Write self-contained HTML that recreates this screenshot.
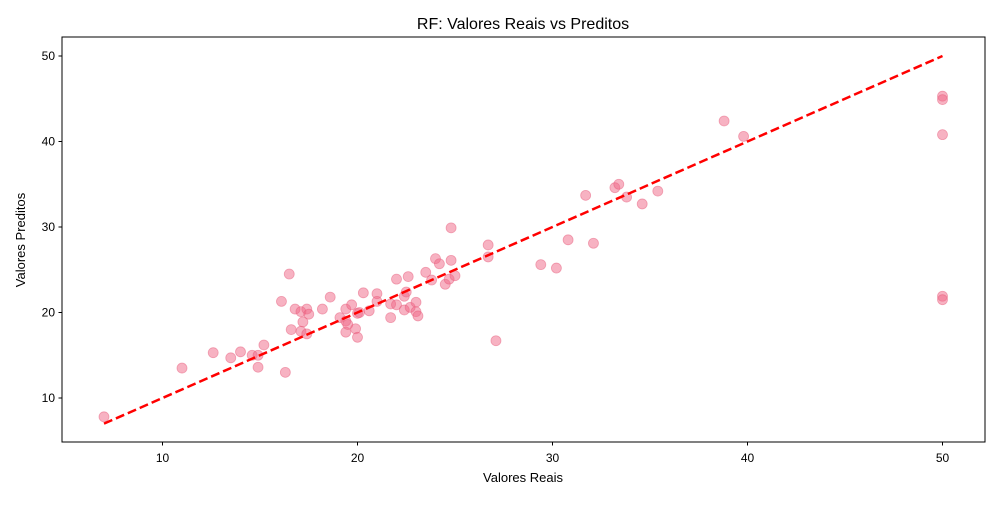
<!DOCTYPE html>
<html><head><meta charset="utf-8"><style>
body{margin:0;background:#fff;}
svg text{font-family:"Liberation Sans","DejaVu Sans",sans-serif;fill:#000;}
</style></head><body>
<svg id="chart" width="1000" height="500" xmlns="http://www.w3.org/2000/svg">
<text x="523" y="29" font-size="16" text-anchor="middle">RF: Valores Reais vs Preditos</text>
<g id="plot"></g>
<rect x="62" y="37" width="923" height="405" fill="none" stroke="#000" stroke-width="1"/>
<text x="523" y="482" font-size="13" text-anchor="middle">Valores Reais</text>
<text transform="translate(25,240) rotate(-90)" font-size="13" text-anchor="middle">Valores Preditos</text>
</svg>
<script>
const realValues=[7.0,11.0,12.6,13.5,14.0,14.6,14.9,14.9,15.2,16.3,16.1,16.5,16.6,16.8,17.1,17.1,17.2,17.4,17.4,17.5,18.2,18.6,19.1,19.4,19.4,19.4,19.5,19.7,19.9,20.0,20.0,20.1,20.3,20.6,21.0,21.0,21.7,21.7,22.0,22.0,22.4,22.4,22.6,22.5,22.7,23.0,23.0,23.1,23.5,23.8,24.0,24.2,24.5,24.7,24.8,24.8,25.0,26.7,26.7,27.1,29.4,30.2,30.8,32.1,31.7,33.2,33.4,33.8,34.6,35.4,38.8,39.8,50,50,50,50,50];
const predValues=[7.8,13.5,15.3,14.7,15.4,15.0,15.0,13.6,16.2,13.0,21.3,24.5,18.0,20.4,20.1,17.8,18.9,20.4,17.5,19.8,20.4,21.8,19.4,19.0,20.4,17.7,18.6,20.9,18.1,19.9,17.1,20.0,22.3,20.2,22.2,21.3,21.0,19.4,23.9,20.9,20.3,21.9,24.2,22.4,20.6,21.2,20.1,19.6,24.7,23.8,26.3,25.7,23.3,23.9,29.9,26.1,24.3,27.9,26.5,16.7,25.6,25.2,28.5,28.1,33.7,34.6,35.0,33.5,32.7,34.2,42.4,40.6,45.3,44.9,40.8,21.9,21.5];
const xTicks=[10,20,30,40,50];
const yTicks=[10,20,30,40,50];
const identityLine=[7,50];
const NS="http://www.w3.org/2000/svg";
const X=v=>162.5+(v-10)*19.5;
const Y=v=>398-(v-10)*8.55;
const g=document.getElementById('plot');
function mk(t,a){const e=document.createElementNS(NS,t);for(const k in a)e.setAttribute(k,a[k]);g.appendChild(e);return e;}
xTicks.forEach(t=>{
  const l=mk('line',{x1:X(t),x2:X(t),y1:442,y2:445.5,stroke:'#000'});
  
  
  const tx=mk('text',{x:X(t),y:462,'font-size':12,'text-anchor':'middle'});tx.textContent=t;
  
  
});
yTicks.forEach(t=>{
  const l=mk('line',{x1:58.5,x2:62,y1:Y(t),y2:Y(t),stroke:'#000'});
  
  
  const tx=mk('text',{x:55,y:Y(t)+4,'font-size':12,'text-anchor':'end'});tx.textContent=t;
  
  
});
realValues.forEach((v,i)=>{
  const c=mk('circle',{cx:X(v),cy:Y(predValues[i]),r:5,fill:'#f06585','fill-opacity':0.5,stroke:'#e85a7a','stroke-opacity':0.5,'stroke-width':0.8});
  
  
});
const ln=mk('line',{x1:X(identityLine[0]),y1:Y(identityLine[0]),x2:X(identityLine[1]),y2:Y(identityLine[1]),stroke:'#ff0000','stroke-width':2.5,'stroke-dasharray':'9,4'});


</script>
</body></html>
